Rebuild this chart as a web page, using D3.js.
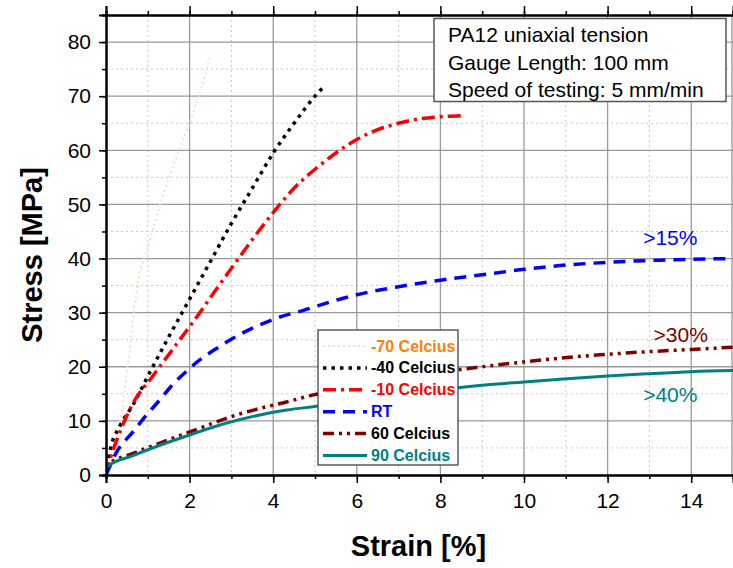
<!DOCTYPE html>
<html lang="en">

<head>
    <meta charset="UTF-8">
    <title>PA12 uniaxial tension</title>
    <style>
        body { margin: 0; background: #fff; }
        svg text { font-family: "Liberation Sans", Arial, sans-serif; }
    </style>
</head>

<body>
    <svg id="chart" width="733" height="568"></svg>
    <script src="https://d3js.org/d3.v7.min.js"></script>
    <script>
        // values (strain in %, stress in MPa)
        let seriesNames = ['-70 Celcius', '-40 Celcius', '-10 Celcius', 'RT', '60 Celcius', '90 Celcius']

        let strainM70 = [0, 0.16, 0.32, 0.48, 0.62, 0.77, 1.0, 1.36, 1.7, 2.0, 2.3, 2.49]
        let stressM70 = [0, 5, 9, 17.5, 27, 36, 42, 51.6, 59, 65, 72, 77.3]

        let strainM40 = [0, 0.1, 0.33, 0.65, 1.05, 1.5, 2.0, 2.5, 3.0, 3.5, 4.0, 4.5, 5.0, 5.24]
        let stressM40 = [0, 4.6, 9, 13, 19, 25.5, 32.5, 39.5, 46.5, 53, 59.5, 65, 70, 72]

        let strainM10 = [0, 0.1, 0.26, 0.65, 1.13, 1.69, 2.17, 2.61, 3.0, 3.5, 4.0, 4.5, 5.0, 5.5, 6.0, 6.5, 7.0, 7.5, 8.0, 8.5]
        let stressM10 = [0, 3, 6.5, 13.3, 18.4, 24.2, 29.2, 34, 38.2, 43.5, 48.5, 53, 56.5, 59.5, 62, 63.8, 65, 65.8, 66.2, 66.4]

        let strainRT = [0, 0.26, 0.65, 0.97, 1.29, 1.57, 1.93, 2.25, 2.69, 3.09, 3.64, 4.16, 4.76, 5.08, 6, 7, 8, 9, 10, 10.86, 12, 13.25, 15]
        let stressRT = [0, 4.3, 8, 11.1, 13.9, 16.5, 19.2, 21.3, 23.6, 25.5, 27.6, 29.2, 30.5, 31.3, 33.3, 34.8, 36, 37, 38, 38.7, 39.3, 39.7, 40]

        let strain60 = [0, 0.02, 0.65, 1.29, 1.81, 2.33, 3.0, 3.68, 4.32, 4.96, 6, 7, 8, 9, 10, 10.86, 11.82, 12.78, 14, 15]
        let stress60 = [0, 1.8, 4, 5.9, 7.4, 8.9, 10.8, 12.3, 13.5, 14.8, 16.3, 17.7, 19, 20, 20.9, 21.6, 22.2, 22.7, 23.2, 23.6]

        let strain90 = [0, 0.02, 0.65, 1.29, 2.0, 2.89, 3.68, 4.32, 5.08, 6, 7, 8, 9, 10, 10.86, 12, 12.93, 14, 15]
        let stress90 = [0, 1.5, 3.6, 5.5, 7.4, 9.6, 11.1, 12, 12.75, 13.8, 14.9, 15.8, 16.6, 17.2, 17.7, 18.3, 18.7, 19.1, 19.3]

        let xTicks = [0, 2, 4, 6, 8, 10, 12, 14]
        let yTicks = [0, 10, 20, 30, 40, 50, 60, 70, 80]
        let notes = ['PA12 uniaxial tension', 'Gauge Length: 100 mm', 'Speed of testing: 5 mm/min']
        let elongLabels = ['>15%', '>30%', '>40%']
        let elongAt = [[12.85, 42.5], [13.1, 24.5], [12.85, 13.5]] // where the labels sit (data units)

        // line styles for each series
        let styles = [
            { color: '#ffdcc0', text: '#ff8000', width: 2, dash: '2,3' },
            { color: '#000000', text: '#000000', width: 3.5, dash: '3.5,5' },
            { color: '#ff0000', text: '#ff0000', width: 3.5, dash: '13,5,3,5' },
            { color: '#0000ff', text: '#0000ff', width: 3.5, dash: '12,8' },
            { color: '#800000', text: '#000000', width: 3.5, dash: '11,5,3,5,3,5' },
            { color: '#008080', text: '#008080', width: 3, dash: null }
        ]

        let seriesData = [
            d3.zip(strainM70, stressM70),
            d3.zip(strainM40, stressM40),
            d3.zip(strainM10, stressM10),
            d3.zip(strainRT, stressRT),
            d3.zip(strain60, stress60),
            d3.zip(strain90, stress90)
        ]

        let svg = d3.select('#chart')
        let pLeft = 106, pRight = 733, pTop = 15, pBottom = 475

        let x = d3.scaleLinear().domain([0, 15]).range([pLeft, pRight])
        let y = d3.scaleLinear().domain([0, 85]).range([pBottom, pTop])

        let minorX = d3.range(1, 15, 2)
        let minorY = d3.range(5, 85, 10)

        // grid
        let grid = svg.append('g')
        grid.selectAll('.vminor').data(minorX).enter().append('line')
            .attr('x1', d => x(d)).attr('x2', d => x(d)).attr('y1', pTop).attr('y2', pBottom)
            .attr('stroke', '#c8c8c8').attr('stroke-width', 1).attr('stroke-dasharray', '2,3')
        grid.selectAll('.hminor').data(minorY).enter().append('line')
            .attr('x1', pLeft).attr('x2', pRight).attr('y1', d => y(d)).attr('y2', d => y(d))
            .attr('stroke', '#c8c8c8').attr('stroke-width', 1).attr('stroke-dasharray', '2,3')
        grid.selectAll('.vmajor').data(xTicks.slice(1)).enter().append('line')
            .attr('x1', d => x(d)).attr('x2', d => x(d)).attr('y1', pTop).attr('y2', pBottom)
            .attr('stroke', '#9a9a9a').attr('stroke-width', 1.3)
        grid.selectAll('.hmajor').data(yTicks.slice(1)).enter().append('line')
            .attr('x1', pLeft).attr('x2', pRight).attr('y1', d => y(d)).attr('y2', d => y(d))
            .attr('stroke', '#9a9a9a').attr('stroke-width', 1.3)
        grid.append('line').attr('x1', pRight - 1).attr('x2', pRight - 1).attr('y1', pTop).attr('y2', pBottom)
            .attr('stroke', '#9a9a9a').attr('stroke-width', 1.3)

        // curves
        svg.append('clipPath').attr('id', 'plotclip').append('rect')
            .attr('x', pLeft).attr('y', pTop).attr('width', pRight - pLeft).attr('height', pBottom - pTop)

        let line = d3.line().x(d => x(d[0])).y(d => y(d[1])).curve(d3.curveMonotoneX)

        svg.append('g').attr('clip-path', 'url(#plotclip)')
            .selectAll('path')
            .data(seriesData)
            .enter()
            .append('path')
            .attr('d', line)
            .attr('fill', 'none')
            .attr('stroke', (d, i) => styles[i].color)
            .attr('stroke-width', (d, i) => styles[i].width)
            .attr('stroke-dasharray', (d, i) => styles[i].dash)

        // axes
        let axisStyle = (g) => {
            g.select('.domain').attr('stroke-width', 2)
            g.selectAll('text').style('font-size', '21px').attr('fill', '#000')
            g.selectAll('line').attr('stroke-width', 1.5)
        }
        svg.append('g').attr('transform', `translate(0,${pBottom})`)
            .call(d3.axisBottom(x).tickValues(d3.range(0, 16)).tickSize(4).tickFormat(''))
            .call(axisStyle)
        svg.append('g').attr('transform', `translate(0,${pBottom})`)
            .call(d3.axisBottom(x).tickValues(xTicks).tickSize(8).tickPadding(10))
            .call(axisStyle)
        svg.append('g').attr('transform', `translate(${pLeft},0)`)
            .call(d3.axisLeft(y).tickValues(d3.range(0, 86, 5)).tickSize(4).tickFormat(''))
            .call(axisStyle)
        svg.append('g').attr('transform', `translate(${pLeft},0)`)
            .call(d3.axisLeft(y).tickValues(yTicks).tickSize(7).tickPadding(8))
            .call(axisStyle)
        svg.append('g').attr('transform', `translate(0,${pTop})`)
            .call(d3.axisTop(x).tickValues(d3.range(0, 16)).tickSize(4).tickFormat(''))
            .call(axisStyle)
        svg.append('g').attr('transform', `translate(0,${pTop})`)
            .call(d3.axisTop(x).tickValues(xTicks).tickSize(9).tickFormat(''))
            .call(axisStyle)

        // axis titles
        svg.append('text')
            .attr('x', (pLeft + pRight) / 2 - 1).attr('y', 556)
            .attr('text-anchor', 'middle')
            .style('font-size', '29px').style('font-weight', 'bold')
            .text('Strain [%]')
        svg.append('text')
            .attr('transform', `translate(42,${(pTop + pBottom) / 2 + 10}) rotate(-90)`)
            .attr('text-anchor', 'middle')
            .style('font-size', '29px').style('font-weight', 'bold')
            .text('Stress [MPa]')

        // note box
        svg.append('rect')
            .attr('x', 434).attr('y', 18.5).attr('width', 292).attr('height', 83)
            .attr('fill', '#fff').attr('stroke', '#555').attr('stroke-width', 1.5)
        svg.append('g').selectAll('text')
            .data(notes)
            .enter()
            .append('text')
            .attr('x', 448)
            .attr('y', (d, i) => 42 + i * 27.5)
            .style('font-size', '21px')
            .text(d => d)

        // elongation labels
        svg.append('g').selectAll('text')
            .data(elongLabels)
            .enter()
            .append('text')
            .attr('x', (d, i) => x(elongAt[i][0]))
            .attr('y', (d, i) => y(elongAt[i][1]))
            .attr('fill', (d, i) => styles[i + 3].color)
            .style('font-size', '21px')
            .text(d => d)

        // legend
        let legend = svg.append('g')
        legend.append('rect')
            .attr('x', 318).attr('y', 330).attr('width', 140).attr('height', 135)
            .attr('fill', '#fff').attr('stroke', '#333').attr('stroke-width', 1.2)
        let rows = legend.selectAll('g.row')
            .data(seriesNames)
            .enter()
            .append('g')
            .attr('transform', (d, i) => `translate(0,${346 + i * 21.9})`)
        rows.append('line')
            .attr('x1', 323).attr('x2', 367).attr('y1', 0).attr('y2', 0)
            .attr('stroke', (d, i) => styles[i].color)
            .attr('stroke-width', (d, i) => styles[i].width)
            .attr('stroke-dasharray', (d, i) => styles[i].dash)
        rows.append('text')
            .attr('x', 371).attr('y', 5.5)
            .attr('fill', (d, i) => styles[i].text)
            .style('font-size', '16px').style('font-weight', 'bold')
            .text(d => d)
    </script>
</body>

</html>
